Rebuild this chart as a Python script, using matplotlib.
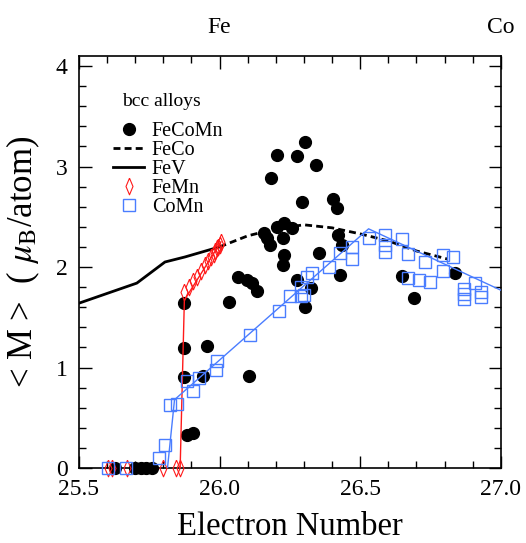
import numpy as np
import matplotlib.pyplot as plt
from matplotlib.lines import Line2D
from matplotlib.ticker import MultipleLocator

plt.rcParams['font.family'] = ['Liberation Serif', 'DejaVu Serif']
plt.rcParams['mathtext.fontset'] = 'stix'

# FeCoMn (filled circles)
fecomn_x = [25.63, 25.70, 25.72, 25.74, 25.76,
            25.874, 25.874, 25.874, 25.884, 25.906, 25.94, 25.955, 26.034,
            26.066, 26.098, 26.116, 26.133, 26.105, 26.158, 26.18, 26.168,
            26.205, 26.23, 26.226, 26.258, 26.23, 26.226, 26.183, 26.205,
            26.276, 26.304, 26.343, 26.294, 26.404, 26.418, 26.422, 26.436,
            26.354, 26.43, 26.276, 26.326, 26.304, 26.65, 26.69, 26.838]
fecomn_y = [0, 0, 0, 0, 0,
            0.91, 1.19, 1.64, 0.33, 0.35, 0.92, 1.21, 1.65,
            1.90, 1.87, 1.84, 1.76, 0.92, 2.34, 2.22, 2.29,
            2.40, 2.44, 2.29, 2.39, 2.12, 2.02, 2.89, 3.11,
            3.10, 3.24, 3.01, 2.65, 2.68, 2.59, 2.32, 2.22,
            2.14, 1.92, 1.87, 1.79, 1.60, 1.91, 1.69, 1.94]

# FeCo (dashed)
feco_x = [26.0, 26.1, 26.2, 26.3, 26.4, 26.5, 26.6, 26.7, 26.81]
feco_y = [2.20, 2.31, 2.38, 2.42, 2.39, 2.33, 2.26, 2.16, 2.08]

# FeV (solid black)
fev_x = [25.5, 25.706, 25.806, 25.877, 26.0]
fev_y = [1.64, 1.84, 2.05, 2.10, 2.20]

# FeMn (red diamonds)
femn_x = [25.604, 25.618, 25.672, 25.80, 25.845, 25.86,
          25.875, 25.89, 25.905, 25.92, 25.935, 25.95, 25.96, 25.97,
          25.98, 25.985, 25.99, 25.995, 26.0, 26.005]
femn_y = [0, 0, 0, 0, 0, 0,
          1.75, 1.80, 1.86, 1.90, 1.96, 2.02, 2.06, 2.10,
          2.13, 2.16, 2.19, 2.20, 2.22, 2.25]
femn_line_x = [25.86, 25.875, 26.005]
femn_line_y = [0, 1.67, 2.25]

# CoMn (blue open squares)
comn_x = [25.604, 25.668, 25.785, 25.806, 25.824, 25.848, 25.906, 25.884,
          25.927, 25.99, 25.987, 26.11, 26.21, 26.25, 26.29, 26.29, 26.31,
          26.33, 26.30, 26.39, 26.43, 26.47, 26.47, 26.53, 26.59, 26.59,
          26.59, 26.65, 26.67, 26.67, 26.71, 26.75, 26.73, 26.795, 26.83,
          26.795, 26.87, 26.87, 26.87, 26.91, 26.93, 26.93]
comn_y = [0, 0, 0.10, 0.23, 0.63, 0.64, 0.77, 0.87,
          0.90, 1.07, 0.98, 1.32, 1.56, 1.71, 1.71, 1.80, 1.90,
          1.94, 1.72, 2.00, 2.14, 2.20, 2.08, 2.29, 2.32, 2.22,
          2.15, 2.28, 2.13, 1.89, 1.87, 1.85, 2.05, 2.12, 2.10,
          1.96, 1.78, 1.73, 1.68, 1.84, 1.75, 1.70]
comn_line_x = [25.815, 25.84, 26.53, 27.0]
comn_line_y = [0, 0.68, 2.38, 1.77]

red = '#ff1a1a'
blue = '#4a7dff'
thin_diamond = [(0, 1), (0.42, 0), (0, -1), (-0.42, 0), (0, 1)]

fig = plt.figure(figsize=(5.26, 5.43), dpi=100)
ax = fig.add_axes([0.150, 0.138, 0.802, 0.759])

ax.plot(fev_x, fev_y, '-', color='black', lw=2.0, zorder=2)
ax.plot(feco_x, feco_y, color='black', lw=2.0, dashes=(2.5, 1.5), zorder=2)
ax.plot(fecomn_x, fecomn_y, 'o', color='black', ms=8.5, clip_on=False, zorder=3)
ax.plot(femn_line_x, femn_line_y, '-', color=red, lw=1.0, zorder=4)
ax.plot(femn_x, femn_y, ls='none', marker=thin_diamond, mfc='none', mec=red,
        mew=0.8, ms=12, clip_on=False, zorder=4)
ax.plot(comn_line_x, comn_line_y, '-', color=blue, lw=1.0, zorder=4)
ax.plot(comn_x, comn_y, 's', mfc='none', mec=blue, mew=1.0, ms=8.5,
        clip_on=False, zorder=5)

ax.set_xlim(25.5, 27.0)
ax.set_ylim(0, 4.1)
ax.xaxis.set_major_locator(MultipleLocator(0.5))
ax.xaxis.set_minor_locator(MultipleLocator(0.1))
ax.yaxis.set_major_locator(MultipleLocator(1))
ax.yaxis.set_minor_locator(MultipleLocator(0.2))
ax.set_xticks([25.5, 26.0, 26.5, 27.0])
ax.set_xticklabels(['25.5', '26.0', '26.5', '27.0'])
ax.tick_params(which='both', direction='in', top=True, right=True,
               labelsize=17, width=1)
ax.tick_params(which='major', length=9, pad=8)
ax.tick_params(which='minor', length=5)
for s in ax.spines.values():
    s.set_linewidth(1.2)

ax.set_xlabel('Electron Number', fontsize=23.5, labelpad=8)
ax.set_ylabel(r'< M >  ( $\mu_{\rm B}$/atom)', fontsize=25, labelpad=10)

ax.annotate('Fe', xy=(26.0, 1), xycoords=('data', 'axes fraction'),
            xytext=(0, 13), textcoords='offset points', ha='center',
            va='bottom', fontsize=17)
ax.annotate('Co', xy=(27.0, 1), xycoords=('data', 'axes fraction'),
            xytext=(0, 13), textcoords='offset points', ha='center',
            va='bottom', fontsize=17)

ax.text(0.103, 0.89, 'bcc alloys', transform=ax.transAxes, fontsize=14,
        va='center', ha='left')

handles = [
    Line2D([], [], ls='none', marker='o', color='black', ms=8.5),
    Line2D([], [], color='black', lw=2.0, dashes=(2.5, 1.5)),
    Line2D([], [], color='black', lw=2.0),
    Line2D([], [], ls='none', marker=thin_diamond, mfc='none', mec=red,
           mew=0.8, ms=12),
    Line2D([], [], ls='none', marker='s', mfc='none', mec=blue, mew=1.0, ms=8.5),
]
labels = ['FeCoMn', 'FeCo', 'FeV', 'FeMn', 'CoMn']
ax.legend(handles, labels, loc='upper left', bbox_to_anchor=(0.082, 0.84),
          frameon=False, fontsize=14.5, handlelength=1.5, handletextpad=0.4,
          labelspacing=0.0, borderpad=0, borderaxespad=0)

fig.savefig('out.png', dpi=100)
